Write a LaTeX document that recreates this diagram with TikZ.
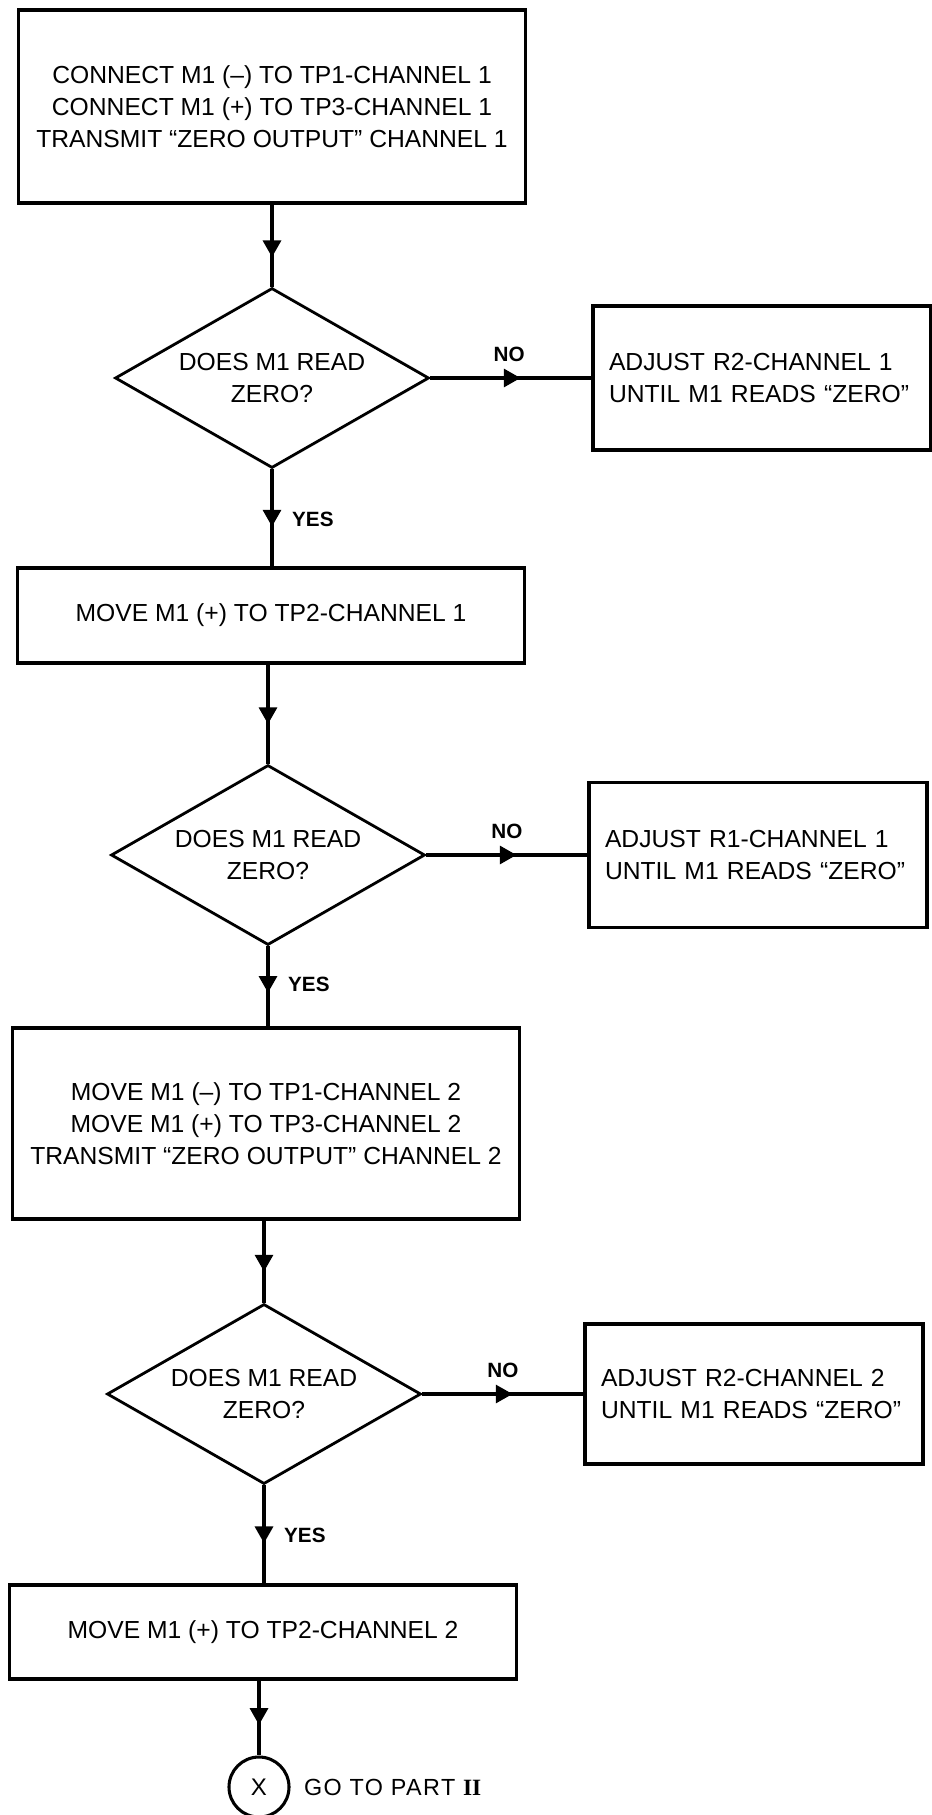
\documentclass[tikz,border=0pt]{standalone}
\usepackage{fontspec}
\setmainfont{Liberation Sans}
\newfontfamily\romanfont{Liberation Serif}
\usetikzlibrary{shapes.geometric,arrows.meta,decorations.markings,positioning}

\begin{document}
\begin{tikzpicture}[x=1pt,y=-1pt,
    txt/.style={font=\fontsize{18.5}{24}\selectfont},
    stepbox/.style={txt,draw,line width=2.6pt,align=center,minimum width=380.25pt},
    adjbox/.style={txt,draw,line width=2.6pt,align=left,text width=229.5pt,inner xsep=12pt},
    query/.style={txt,draw,diamond,line width=2.1pt,align=center,inner sep=0pt,aspect=1.74,minimum width=235.5pt,minimum height=135pt},
    conn/.style={line width=2.3pt},
    midarrow/.style={postaction={decorate},decoration={markings,mark=at position #1 with {\arrow{Triangle[length=12.5pt,width=13.5pt]}}}},
    yn/.style={font=\fontsize{15.5}{18}\selectfont\bfseries,inner sep=0pt}]
  \useasboundingbox (0,0) rectangle (698.25,1361.25);

  \node[stepbox,minimum height=144.75pt] (conn1) at (204,79.875) {CONNECT M1 (–) TO TP1-CHANNEL 1\\CONNECT M1 (+) TO TP3-CHANNEL 1\\TRANSMIT “ZERO OUTPUT” CHANNEL 1};
  \node[query] (q1) at (204,283.5) {DOES M1 READ\\ZERO?};
  \node[adjbox,minimum height=108pt] (adj1) at (571.5,283.5) {ADJUST R2-CHANNEL 1\\UNTIL M1 READS “ZERO”};
  \node[stepbox,minimum height=71.25pt] (move1) at (203.25,461.625) {MOVE M1 (+) TO TP2-CHANNEL 1};
  \node[query] (q2) at (201,641.25) {DOES M1 READ\\ZERO?};
  \node[adjbox,minimum height=108.75pt] (adj2) at (568.5,641.25) {ADJUST R1-CHANNEL 1\\UNTIL M1 READS “ZERO”};
  \node[stepbox,minimum height=143.25pt] (move2) at (199.5,842.625) {MOVE M1 (–) TO TP1-CHANNEL 2\\MOVE M1 (+) TO TP3-CHANNEL 2\\TRANSMIT “ZERO OUTPUT” CHANNEL 2};
  \node[query] (q3) at (198,1045.5) {DOES M1 READ\\ZERO?};
  \node[adjbox,minimum height=105pt] (adj3) at (565.5,1045.5) {ADJUST R2-CHANNEL 2\\UNTIL M1 READS “ZERO”};
  \node[stepbox,minimum height=70.5pt] (move3) at (197.25,1224) {MOVE M1 (+) TO TP2-CHANNEL 2};
  \node[draw,circle,conn,minimum size=45pt,inner sep=0pt,font=\fontsize{18}{20}\selectfont] (goto) at (194.25,1340.25) {X};
  \node[inner sep=0pt,right=10pt of goto,font=\fontsize{17.5}{20}\selectfont\addfontfeatures{LetterSpace=6}] (part) {GO TO PART {\romanfont\bfseries II}};

  \draw[conn,midarrow=0.64] (conn1.south -| q1.north) -- (q1.north);
  \draw[conn,midarrow=0.56] (q1.east) -- node[yn,above=11pt,pos=0.49] (no1) {NO} (adj1.west);
  \draw[conn,midarrow=0.59] (q1.south) -- node[yn,right=14pt,pos=0.52] (yes1) {YES} (q1.south |- move1.north);
  \draw[conn,midarrow=0.6] (move1.south -| q2.north) -- (q2.north);
  \draw[conn,midarrow=0.56] (q2.east) -- node[yn,above=11pt,pos=0.5] (no2) {NO} (adj2.west);
  \draw[conn,midarrow=0.58] (q2.south) -- node[yn,right=14pt,pos=0.48] (yes2) {YES} (q2.south |- move2.north);
  \draw[conn,midarrow=0.62] (move2.south -| q3.north) -- (q3.north);
  \draw[conn,midarrow=0.56] (q3.east) -- node[yn,above=11pt,pos=0.5] (no3) {NO} (adj3.west);
  \draw[conn,midarrow=0.59] (q3.south) -- node[yn,right=14pt,pos=0.51] (yes3) {YES} (q3.south |- move3.north);
  \draw[conn,midarrow=0.59] (move3.south -| goto.north) -- (goto.north);
\end{tikzpicture}
\end{document}
